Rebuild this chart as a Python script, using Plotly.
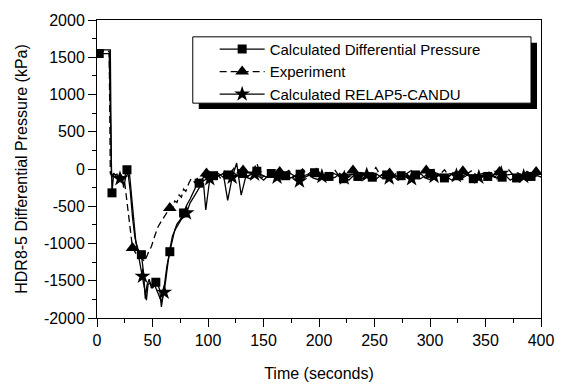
import numpy as np
import plotly.graph_objects as go

# ---------------- data ----------------
# Calculated Differential Pressure (solid, squares)
calc_t_tr = [2, 11, 13.5, 15, 16.5, 18, 20, 22, 24, 27, 29, 31, 33, 35, 37, 40, 42, 43.5, 45, 47,
             49, 51, 53, 55, 56.5, 58, 59.5, 61, 63, 65.6, 68, 70, 72, 75, 78, 81, 84, 87, 89, 92]
calc_v_tr = [1550, 1550, -320, -60, -80, -70, -130, -90, -150, -10, -20, -380, -720, -980, -1080,
             -1150, -1400, -1740, -1560, -1480, -1600, -1500, -1520, -1560, -1620, -1850, -1700,
             -1500, -1300, -1110, -930, -820, -740, -680, -590, -480, -400, -300, -240, -190]
calc_sq_idx_tr = [0, 2, 9, 15, 22, 29, 34, 39]
calc_v_st = [-150, -120, -90, -60, -110, -80, -40, -90, -60, -100, -70, -30, -80, -110, -60, -90,
             -120, -90, -60, -100, -70, -110, -80, -50, -90, -120, -100, -60, -90, -130, -80, -70,
             -100, -60, -90, -110, -70, -120, -80, -50, -100, -90, -60, -110, -80, -130, -90, -60,
             -100, -70, -120, -80, -50, -90, -110, -70, -130, -80, -60, -100, -90, -50, -110, -80,
             -70, -120, -90, -60, -100, -80, -70]

# Experiment (dashed, triangles)
exp_t_tr = [0, 11, 12, 14, 16, 18, 20, 22, 25, 28, 32, 35, 38, 40, 43, 46, 49, 52, 55, 58, 62,
            65.6, 68, 70, 72, 74, 76, 78, 80, 83, 85, 88, 91, 94, 98.6]
exp_v_tr = [1580, 1580, -60, -100, -90, -120, -100, -130, -190, -600, -1060, -1130, -1150, -1200,
            -1240, -1130, -1040, -900, -775, -700, -600, -525, -540, -430, -450, -350, -380, -270,
            -300, -180, -130, -180, -110, -150, -60]
exp_tri_idx_tr = [10, 21, 34]
exp_v_st = [-90, -40, -120, -30, -80, 10, -60, -20, -100, -50, 80, -120, -70, -30, -90, -40,
            -60, -20, -110, -50, 0, -80, -30, -60, -90, -40, -70, -10, -100, -50, -80, -20,
            -60, -100, -30, -70, 20, -90, -40, -60, -80, -30, -110, -50, -10, -70, -40, -20,
            -90, -50, -70, -10, -100, -40, -80, -30, -60, -20, -90, -50, -70, -30, -110, -40,
            -60, -10, -80, -50, -100, -30, -70, -40, -60]

# Calculated RELAP5-CANDU (solid, stars)
rel_t_tr = [0, 12, 13, 15, 17, 19, 20.7, 22, 24, 26, 28, 30, 32, 34, 36, 38, 41, 43, 44.5, 46, 48,
            50, 52, 54, 56, 58, 60.5, 62, 64, 66, 68, 71, 74, 77, 80.6, 84, 87, 90, 93, 96, 98, 101.6]
rel_v_tr = [1600, 1600, -100, -60, -90, -120, -130, -80, -250, -100, -60, -300, -650, -900, -1050,
            -1200, -1440, -1620, -1760, -1550, -1530, -1600, -1560, -1640, -1700, -1780, -1655,
            -1450, -1250, -1050, -900, -800, -720, -650, -590, -450, -380, -300, -230, -200, -550, -130]
rel_star_idx_tr = [6, 16, 26, 34, 41]
rel_v_st = [-120, -90, -60, -420, -110, 80, -350, -110, -130, -70, -100, -150, -90, -60, -110,
            -140, -80, -120, -100, -160, -90, -70, -120, -140, -100, -80, -130, -110, -60, -120,
            -150, -90, -100, -130, -80, -110, -140, -90, -70, -120, -100, -150, -110, -80, -130,
            -90, -60, -120, -140, -100, -80, -130, -110, -150, -90, -120, -70, -100, -130, -110,
            -80, -140, -100, -120, -60, -90, -150, -110, -130, -100, -80, -120, -90, -110]

names = ["Calculated Differential Pressure", "Experiment", "Calculated RELAP5-CANDU"]
x_ticks = [0, 50, 100, 150, 200, 250, 300, 350, 400]
y_ticks = [-2000, -1500, -1000, -500, 0, 500, 1000, 1500, 2000]


def build(t_tr, v_tr, idx_tr, v_st, step, every):
    n_tr = len(t_tr)
    t_st = [t_tr[-1] + step * (k + 1) for k in range(len(v_st))]
    t = list(t_tr) + t_st
    v = list(v_tr) + list(v_st)
    idx = list(idx_tr) + [n_tr + k for k in range(len(v_st)) if (k + 1) % every == 0]
    return t, v, idx


calc_t, calc_v, calc_idx = build(calc_t_tr, calc_v_tr, calc_sq_idx_tr, calc_v_st, 13 / 3, 3)
exp_t, exp_v, exp_idx = build(exp_t_tr, exp_v_tr, exp_tri_idx_tr, exp_v_st, 33 / 8, 8)
rel_t, rel_v, rel_idx = build(rel_t_tr, rel_v_tr, rel_star_idx_tr, rel_v_st, 20.2 / 5, 5)

FONT = "Arial, Liberation Sans, sans-serif"
fig = go.Figure()

series = [
    (calc_t, calc_v, calc_idx, "square", 9, "solid", names[0]),
    (exp_t, exp_v, exp_idx, "triangle-up", 12, "7px,4px", names[1]),
    (rel_t, rel_v, rel_idx, "star", 12, "solid", names[2]),
]
for t, v, idx, sym, ms, dash, name in series:
    fig.add_trace(go.Scatter(x=t, y=v, mode="lines", line=dict(color="black", width=1.3, dash=dash),
                             showlegend=False, hoverinfo="skip"))
    fig.add_trace(go.Scatter(x=[t[i] for i in idx], y=[v[i] for i in idx], mode="markers",
                             marker=dict(symbol=sym, size=ms, color="black"),
                             showlegend=False, hoverinfo="skip"))
for t, v, idx, sym, ms, dash, name in series:
    fig.add_trace(go.Scatter(x=[None], y=[None], mode="lines+markers", name=name,
                             line=dict(color="black", width=1.3, dash=dash),
                             marker=dict(symbol=sym, size=ms, color="black")))

# legend box with drop shadow
fig.add_shape(type="rect", xref="paper", yref="paper", x0=0.2292, x1=0.991, y0=0.701, y1=0.9236,
              fillcolor="black", line=dict(width=0), layer="below")
fig.add_shape(type="rect", xref="paper", yref="paper", x0=0.2157, x1=0.9775, y0=0.7209, y1=0.9435,
              fillcolor="white", line=dict(color="black", width=1), layer="below")

axis_common = dict(showline=True, linecolor="black", linewidth=1, mirror=True, ticks="outside",
                   ticklen=8, tickcolor="black", showgrid=False, zeroline=False,
                   tickfont=dict(family=FONT, size=16, color="black"))

fig.update_xaxes(range=[0, 400], tickvals=x_ticks, ticktext=[str(v) for v in x_ticks],
                 minor=dict(ticks="outside", ticklen=4, dtick=25, tick0=0, tickcolor="black"),
                 title=dict(text="Time (seconds)", font=dict(family=FONT, size=16, color="black"),
                            standoff=19),
                 **axis_common)
fig.update_yaxes(range=[-2000, 2000], tickvals=y_ticks, ticktext=[str(v) for v in y_ticks],
                 minor=dict(ticks="outside", ticklen=4, dtick=250, tick0=0, tickcolor="black"),
                 title=dict(text="HDR8-5 Differential Pressure (kPa)",
                            font=dict(family=FONT, size=16, color="black"), standoff=12),
                 **axis_common)

fig.update_layout(
    width=566, height=391,
    margin=dict(l=97, r=24, t=18, b=72),
    paper_bgcolor="white", plot_bgcolor="white",
    font=dict(family=FONT, size=16, color="black"),
    legend=dict(x=0.265, xanchor="left", y=0.957, yanchor="top", bgcolor="rgba(0,0,0,0)",
                borderwidth=0, font=dict(family=FONT, size=15, color="black"),
                itemwidth=45, tracegroupgap=0),
)

fig.write_html("out.html")
